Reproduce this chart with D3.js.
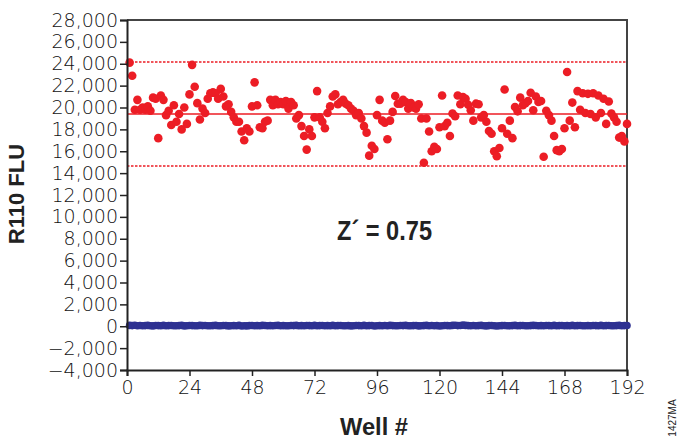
<!DOCTYPE html>
<html>
<head>
<meta charset="utf-8">
<script src="https://cdn.jsdelivr.net/npm/d3@7"></script>
<style>
  body { margin: 0; background: #fff; }
  svg { display: block; }
</style>
</head>
<body>
<svg id="chart" width="678" height="441"></svg>
<script>
// well numbers 1..192
var wells = d3.range(1, 193);

// positive control (red), R110 FLU
var positive = [
  24100, 22900, 19800, 20700, 19800, 20000, 19800, 20100, 19700, 20900, 20800, 17200, 21100, 20700, 19300, 19700,
  18400, 20200, 18700, 19400, 18000, 20000, 18500, 21200, 23900, 21900, 20400, 18900, 19900, 19500, 20800, 21300,
  21400, 21300, 20800, 21700, 21000, 20100, 20300, 19600, 19100, 18700, 18700, 17800, 17000, 18100, 17800, 20100,
  22300, 20200, 18200, 18100, 18700, 18800, 20700, 20200, 20700, 20300, 20500, 20300, 20600, 19900, 20500, 20200,
  19000, 19300, 18300, 17400, 16150, 18000, 17400, 19100, 21500, 19100, 18700, 18100, 19500, 20100, 21000, 21200,
  20300, 20500, 20700, 20350, 20200, 19900, 19700, 19300, 19500, 19000, 18300, 17700, 15600, 16500, 16200, 19300,
  20700, 18800, 18600, 17100, 18800, 19600, 21050, 20350, 20350, 20700, 20500, 19900, 20400, 20000, 19900, 20300,
  19000, 14950, 19000, 17800, 16000, 16400, 16200, 18200, 21100, 18300, 18600, 17400, 19450, 19200, 21100, 20300,
  20950, 20800, 20250, 19750, 18800, 20350, 20300, 19100, 19300, 18700, 17850, 17600, 16000, 15550, 16300, 18100,
  21650, 17600, 18800, 17200, 20050, 19650, 20900, 20200, 20400, 20600, 21350, 19750, 21000, 20500, 20600, 15500,
  19700, 19300, 18800, 17400, 16100, 16000, 16200, 18100, 23250, 18800, 20450, 18200, 21500, 19800, 21300, 19500,
  21250, 19400, 21300, 19100, 21100, 19500, 20800, 18500, 20550, 19450, 19100, 18700, 17250, 17400, 16900, 18500
];

// negative control (blue)
var negative = [
  80, 60, 90, 50, 70, 40, 60, 80, 50, 30, 70, 60, 40, 80, 50, 60,
  70, 50, 40, 60, 80, 30, 50, 70, 60, 40, 50, 80, 60, 70, 40, 50,
  60, 80, 50, 40, 70, 60, 30, 50, 60, 40, 80, 20, 50, 30, 60, 70,
  50, 60, 40, 80, 70, 50, 60, 40, 70, 80, 50, 60, 40, 50, 70, 60,
  80, 50, 60, 40, 70, 60, 50, 80, 40, 60, 70, 50, 60, 40, 80, 50,
  60, 70, 50, 40, 60, 30, 50, 70, 60, 40, 80, 50, 60, 70, 20, 50,
  60, 40, 70, 50, 80, 60, 40, 50, 70, 60, 80, 50, 40, 60, 70, 30,
  50, 60, 80, 40, 70, 50, 60, 20, 50, 70, 60, 40, 80, 90, 60, 70,
  100, 80, 60, 50, 70, 40, 60, 80, 50, 30, 60, 70, 40, 20, 50, 60,
  70, 50, 40, 60, 80, 50, 60, 70, 40, 50, 60, 80, 70, 50, 60, 40,
  70, 60, 50, 80, 40, 60, 70, 50, 60, 40, 80, 50, 60, 70, 50, 40,
  60, 50, 70, 60, 40, 80, 50, 60, 70, 50, 40, 60, 80, 50, 60, 70
];

// mean and mean +/- 3 SD of the positive control
var meanLine = 19400;
var limitLines = [24150, 14650];

var xTicks = [0, 24, 48, 72, 96, 120, 144, 168, 192];
var yTicks = d3.range(-4000, 28001, 2000);

var red = "#ec1d25";
var blue = "#2e3192";

var svg = d3.select("#chart");

var x = d3.scaleLinear().domain([0, 192]).range([127, 627]);
var y = d3.scaleLinear().domain([-4000, 28000]).range([370, 20]);

// frame (top / right)
svg.append("path")
  .attr("d", "M" + x(0) + "," + y(28000) + "H" + x(192) + "V" + y(-4000))
  .attr("fill", "none")
  .attr("stroke", "#444")
  .attr("stroke-width", 2);

// reference lines
svg.append("line")
  .attr("x1", x(0)).attr("x2", x(192))
  .attr("y1", y(meanLine)).attr("y2", y(meanLine))
  .attr("stroke", red)
  .attr("stroke-width", 1.5);

svg.selectAll(".limit")
  .data(limitLines)
  .enter()
  .append("line")
  .attr("class", "limit")
  .attr("x1", x(0)).attr("x2", x(192))
  .attr("y1", function(d) { return y(d); })
  .attr("y2", function(d) { return y(d); })
  .attr("stroke", red)
  .attr("stroke-width", 1.5)
  .attr("stroke-dasharray", "2.5,1.5");

// negative control points
svg.append("g")
  .selectAll("circle")
  .data(negative)
  .enter()
  .append("circle")
  .attr("cx", function(d, i) { return x(wells[i]); })
  .attr("cy", function(d) { return y(d); })
  .attr("r", 3.8)
  .attr("fill", blue);

// positive control points
svg.append("g")
  .selectAll("circle")
  .data(positive)
  .enter()
  .append("circle")
  .attr("cx", function(d, i) { return x(wells[i]); })
  .attr("cy", function(d) { return y(d); })
  .attr("r", 4.3)
  .attr("fill", red);

var tickFont = "'DejaVu Sans', sans-serif";

// y axis
var yAxis = svg.append("g")
  .attr("transform", "translate(" + x(0) + ",0)")
  .call(d3.axisLeft(y).tickValues(yTicks).tickFormat(d3.format(",")).tickSize(7).tickPadding(2));

// x axis
var xAxis = svg.append("g")
  .attr("transform", "translate(0," + y(-4000) + ")")
  .call(d3.axisBottom(x).tickValues(xTicks).tickSize(6).tickPadding(5));

[yAxis, xAxis].forEach(function(g) {
  g.select(".domain").attr("stroke", "#222").attr("stroke-width", 2);
  g.selectAll(".tick line").attr("stroke", "#222").attr("stroke-width", 1.5);
  g.selectAll(".tick text")
    .attr("fill", "#111")
    .style("font-family", tickFont)
    .style("font-weight", 300)
    .style("font-size", "19px");
});

// axis titles
svg.append("text")
  .attr("transform", "translate(24,194) rotate(-90)")
  .attr("text-anchor", "middle")
  .style("font-family", "'Liberation Sans', Arial, sans-serif")
  .style("font-weight", "bold")
  .style("font-size", "22px")
  .attr("fill", "#222")
  .text("R110 FLU");

svg.append("text")
  .attr("x", 340)
  .attr("y", 435)
  .attr("textLength", 68)
  .attr("lengthAdjust", "spacingAndGlyphs")
  .style("font-family", "'Liberation Sans', Arial, sans-serif")
  .style("font-weight", "bold")
  .style("font-size", "24px")
  .attr("fill", "#222")
  .text("Well #");

svg.append("text")
  .attr("x", 337)
  .attr("y", 240)
  .attr("textLength", 95)
  .attr("lengthAdjust", "spacingAndGlyphs")
  .style("font-family", "'Liberation Sans', Arial, sans-serif")
  .style("font-weight", "bold")
  .style("font-size", "27px")
  .attr("fill", "#222")
  .text("Z\u00b4 = 0.75");

svg.append("text")
  .attr("transform", "translate(676,418) rotate(-90)")
  .attr("text-anchor", "middle")
  .style("font-family", "'Liberation Sans', Arial, sans-serif")
  .style("font-size", "10px")
  .attr("fill", "#222")
  .text("1427MA");
</script>
</body>
</html>
